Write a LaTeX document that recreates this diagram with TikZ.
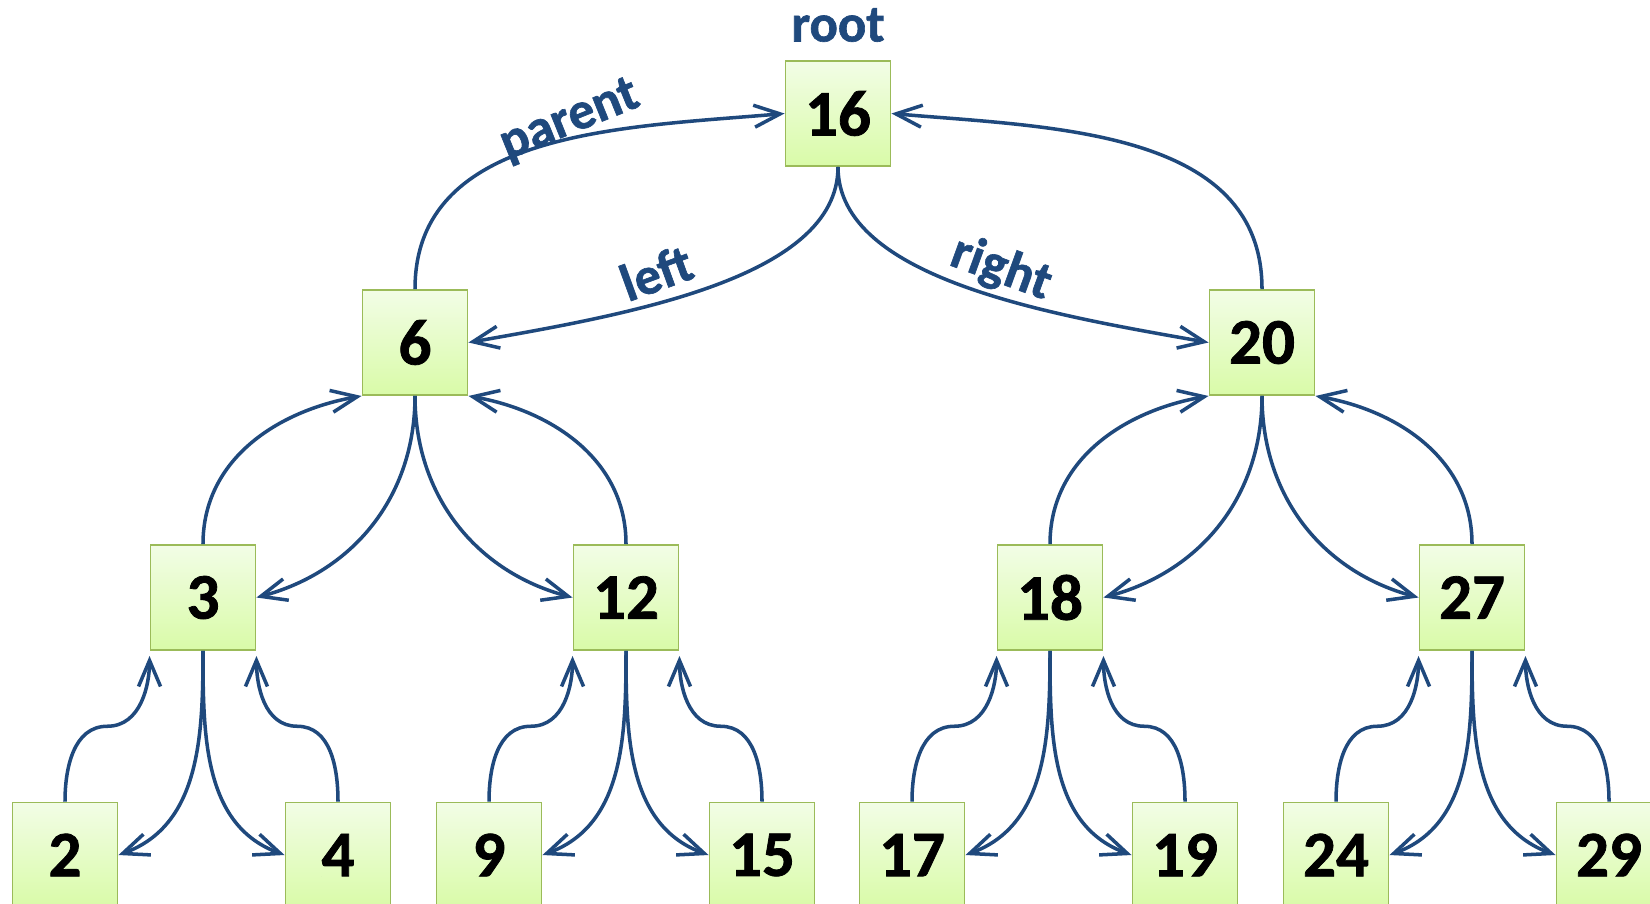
\documentclass[tikz,border=0pt]{standalone}
\usepackage{fontspec}
\setmainfont{Carlito}
\newfontfamily\heavyfont{Carlito}[BoldFeatures={FakeBold=1.2}]
\usetikzlibrary{arrows.meta,calc}
\definecolor{linkblue}{HTML}{1F497D}
\definecolor{keyborder}{HTML}{9BBB59}
\definecolor{keytop}{HTML}{F2FDE6}
\definecolor{keybottom}{HTML}{D9FBA8}

\begin{document}
\begin{tikzpicture}[
    key/.style={draw=keyborder, line width=1.1pt, top color=keytop, bottom color=keybottom,
        minimum size=2.1cm, inner sep=0pt, font=\fontsize{37}{40}\selectfont\heavyfont\bfseries},
    link/.style={draw=linkblue, line width=2pt, -{Straight Barb[length=0.52cm, width=0.44cm]}},
    uplink/.style={link, shorten >=0.1cm},
    tag/.style={text=linkblue, font=\fontsize{30}{33}\selectfont\heavyfont\bfseries}
]
    \useasboundingbox (0,0) rectangle (33,-18.06);

    % The keys, level by level
    \node[key] (n16) at (16.76, -2.27) {16};
    \node[tag] (rootlbl) at (16.76, -0.50) {root};

    \node[key] (n6) at (8.30, -6.85) {6};
    \node[key] (n20) at (25.24, -6.85) {20};

    \node[key] (n3) at (4.06, -11.95) {3};
    \node[key] (n12) at (12.52, -11.95) {12};
    \node[key] (n18) at (21.00, -11.95) {18};
    \node[key] (n27) at (29.44, -11.95) {27};

    \node[key] (n2) at (1.30, -17.10) {2};
    \node[key] (n4) at (6.76, -17.10) {4};
    \node[key] (n9) at (9.78, -17.10) {9};
    \node[key] (n15) at (15.24, -17.10) {15};
    \node[key] (n17) at (18.24, -17.10) {17};
    \node[key] (n19) at (23.70, -17.10) {19};
    \node[key] (n24) at (26.72, -17.10) {24};
    \node[key] (n29) at (32.18, -17.10) {29};

    % Root and its children
    \draw[link] (n6.north) to[out=90, in=185] (n16.west);
    \draw[link] (n16.south) to[out=-90, in=10, out looseness=0.7] (n6.east);
    \draw[link] (n16.south) to[out=-90, in=170, out looseness=0.7] (n20.west);
    \draw[link] (n20.north) to[out=90, in=-5] (n16.east);

    \node[tag, rotate=22] (parentlbl) at (11.40, -2.42) {parent};
    \node[tag, rotate=20] (leftlbl) at (13.12, -5.45) {left};
    \node[tag, rotate=-20] (rightlbl) at (20.02, -5.38) {right};

    % Second level
    \draw[link] (n3.north) to[out=90, in=190] (n6.south west);
    \draw[link] (n6.south) to[out=-90, in=15] (n3.east);
    \draw[link] (n6.south) to[out=-90, in=165] (n12.west);
    \draw[link] (n12.north) to[out=90, in=-10] (n6.south east);

    \draw[link] (n18.north) to[out=90, in=190] (n20.south west);
    \draw[link] (n20.south) to[out=-90, in=15] (n18.east);
    \draw[link] (n20.south) to[out=-90, in=165] (n27.west);
    \draw[link] (n27.north) to[out=90, in=-10] (n20.south east);

    % Leaves: parent pointers (S-curves) and child pointers
    \draw[uplink] (n2.north) to[out=90, in=180] ($(n2.north)!0.5!(n3.south west)$) to[out=0, in=-90] (n3.south west);
    \draw[link] (n3.south) to[out=-90, in=20] (n2.east);
    \draw[link] (n3.south) to[out=-90, in=160] (n4.west);
    \draw[uplink] (n4.north) to[out=90, in=0] ($(n4.north)!0.5!(n3.south east)$) to[out=180, in=-90] (n3.south east);

    \draw[uplink] (n9.north) to[out=90, in=180] ($(n9.north)!0.5!(n12.south west)$) to[out=0, in=-90] (n12.south west);
    \draw[link] (n12.south) to[out=-90, in=20] (n9.east);
    \draw[link] (n12.south) to[out=-90, in=160] (n15.west);
    \draw[uplink] (n15.north) to[out=90, in=0] ($(n15.north)!0.5!(n12.south east)$) to[out=180, in=-90] (n12.south east);

    \draw[uplink] (n17.north) to[out=90, in=180] ($(n17.north)!0.5!(n18.south west)$) to[out=0, in=-90] (n18.south west);
    \draw[link] (n18.south) to[out=-90, in=20] (n17.east);
    \draw[link] (n18.south) to[out=-90, in=160] (n19.west);
    \draw[uplink] (n19.north) to[out=90, in=0] ($(n19.north)!0.5!(n18.south east)$) to[out=180, in=-90] (n18.south east);

    \draw[uplink] (n24.north) to[out=90, in=180] ($(n24.north)!0.5!(n27.south west)$) to[out=0, in=-90] (n27.south west);
    \draw[link] (n27.south) to[out=-90, in=20] (n24.east);
    \draw[link] (n27.south) to[out=-90, in=160] (n29.west);
    \draw[uplink] (n29.north) to[out=90, in=0] ($(n29.north)!0.5!(n27.south east)$) to[out=180, in=-90] (n27.south east);

\end{tikzpicture}
\end{document}
